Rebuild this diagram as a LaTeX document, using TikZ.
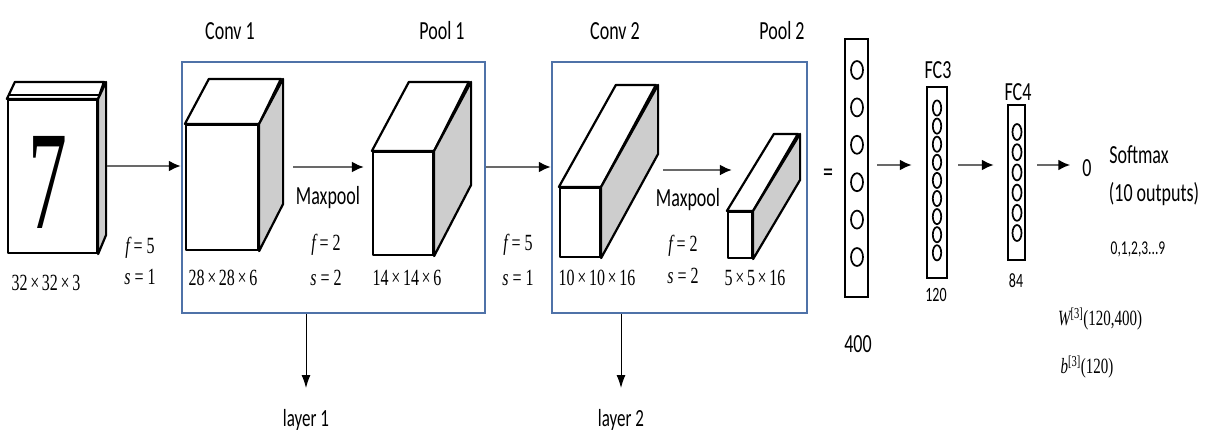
\documentclass[tikz,border=0pt]{standalone}
\usepackage{fontspec}
\setmainfont{Carlito}
\newfontfamily\serif{Liberation Serif}
\usetikzlibrary{arrows.meta,calc}
\newcommand\vs[1]{\scalebox{1}[1.45]{#1}}
\newcommand\mycube[7]{% name, cx, cy, w, h, dx, dy
  \node[face,minimum width=#4pt,minimum height=#5pt] (#1) at (#2,#3) {};
  \filldraw[topf] (#1.north west) -- ++(#6,#7) -- ++(#4,0) -- (#1.north east) -- cycle;
  \filldraw[side] (#1.north east) -- ++(#6,#7) -- ++(0,#5) -- (#1.south east) -- cycle;
}
\definecolor{boxblue}{RGB}{79,114,168}
\definecolor{sidegray}{RGB}{205,205,205}
\definecolor{shaft}{RGB}{105,105,105}
\begin{document}
\begin{tikzpicture}[x=1pt,y=-1pt,
  face/.style={draw=black,line width=2.2pt,fill=white,inner sep=0pt,line join=round},
  side/.style={draw=black,line width=2.2pt,fill=sidegray,line join=round},
  topf/.style={draw=black,line width=2.2pt,fill=white,line join=round},
  group/.style={draw=boxblue,line width=2.4pt,inner sep=0pt},
  arr/.style={draw=shaft,line width=2.2pt,-{Latex[length=12pt,width=11pt,color=black]}},
  down/.style={draw=black,line width=1pt,-{Latex[length=13pt,width=9pt]}},
  fc/.style={draw=black,line width=2.4pt,fill=white,inner sep=0pt},
  neuron/.style={draw=black,line width=1.7pt},
  lbl/.style={inner sep=0pt,font=\fontsize{18}{20}\selectfont},
  small/.style={inner sep=0pt,font=\fontsize{14}{16}\selectfont},
  dim/.style={inner sep=0pt,font=\fontsize{16}{18}\serif},
  form/.style={inner sep=0pt,font=\fontsize{15}{17}\serif},
]
\fill[white] (0,0) rectangle (1209,434);
\useasboundingbox (0,0) rectangle (1209,434);

% group boxes
\node[group,minimum width=303pt,minimum height=251pt] (box1) at (333.5,187.5) {};
\node[group,minimum width=255pt,minimum height=251pt] (box2) at (679.5,187.5) {};

% cubes
\mycube{in}{52.5}{176.5}{89}{153}{8}{-17}
\draw[line width=1.4pt] ($(in.north west)+(2,-4)$) -- ($(in.north east)+(2,-4)$);
\node[inner sep=0pt,font=\fontsize{97}{97}\serif] (seven) at (48,182) {\scalebox{0.8}[1.45]{7}};
\mycube{c1}{222}{187.5}{72}{125}{24}{-45}
\mycube{p1}{403}{203.5}{60}{103}{37}{-69}
\mycube{c2}{580}{222.5}{40}{69}{57}{-102}
\mycube{p2}{740}{235}{24}{46}{47}{-77}

% titles
\node[lbl] (t1) at (230,31) {\vs{Conv 1}};
\node[lbl] (t2) at (442,31) {\vs{Pool 1}};
\node[lbl] (t3) at (615,31) {\vs{Conv 2}};
\node[lbl] (t4) at (782,31) {\vs{Pool 2}};

% dimension labels
\node[dim] (d0) at (46,283) {\vs{32\,×\,32\,×\,3}};
\node[dim] (d1) at (223,278) {\vs{28\,×\,28\,×\,6}};
\node[dim] (d2) at (407,278) {\vs{14\,×\,14\,×\,6}};
\node[dim] (d3) at (597,278) {\vs{10\,×\,10\,×\,16}};
\node[dim] (d4) at (755,278) {\vs{5\,×\,5\,×\,16}};

% hyper-parameters
\node[dim] (f0) at (140,248) {\vs{{\itshape f} = 5}};
\node[dim] (s0) at (140,277) {\vs{{\itshape s} = 1}};
\node[dim] (f1) at (326,245) {\vs{{\itshape f} = 2}};
\node[dim] (s1) at (326,278) {\vs{{\itshape s} = 2}};
\node[dim] (f2) at (518,245) {\vs{{\itshape f} = 5}};
\node[dim] (s2) at (518,278) {\vs{{\itshape s} = 1}};
\node[dim] (f3) at (683,246) {\vs{{\itshape f} = 2}};
\node[dim] (s3) at (683,276) {\vs{{\itshape s} = 2}};

\node[lbl] (mp1) at (328,198) {\vs{Maxpool}};
\node[lbl] (mp2) at (688,200) {\vs{Maxpool}};

% arrows between stages
\coordinate (a0) at (107,166);
\draw[arr] (a0) -- (a0 -| box1.west);
\coordinate (a1) at (293,167);
\draw[arr] (a1) -- ($(a1 -| p1.west)+(-8,0)$);
\draw[arr] (box1.east |- a1) -- (box2.west |- a1);
\coordinate (a2) at (663,170);
\draw[arr] (a2) -- ($(a2 -| p2.west)+(5,0)$);

\node[lbl,font=\fontsize{20}{22}\selectfont] (eq) at (828,175) {\vs{=}};

% fully connected layers
\node[fc,minimum width=23pt,minimum height=258pt] (l400) at (856.5,168) {};
\foreach \i in {0,...,5} \draw[neuron] (857,{70+37.4*\i}) ellipse [x radius=6pt, y radius=9pt];
\node[fc,minimum width=20pt,minimum height=191pt] (fc3) at (937,182.5) {};
\foreach \i in {0,...,8} \draw[neuron] (937,{108+18.1*\i}) ellipse [x radius=4.2pt, y radius=7.6pt];
\node[fc,minimum width=17pt,minimum height=155pt] (fc4) at (1016.5,182.5) {};
\foreach \i in {0,...,5} \draw[neuron] (1017,{132+20.2*\i}) ellipse [x radius=4.5pt, y radius=8pt];

\node[lbl] (n400) at (858,344) {\vs{400}};
\node[lbl] (nfc3) at (938,70) {\vs{FC3}};
\node[small] (n120) at (936,295) {\vs{120}};
\node[lbl] (nfc4) at (1018,92) {\vs{FC4}};
\node[small] (n84) at (1016,281) {\vs{84}};
\node[lbl] (out) at (1087,168) {\vs{0}};

\coordinate (b1) at (877,165);
\draw[arr] (b1) -- ($(b1 -| fc3.west)+(-14,0)$);
\coordinate (b2) at (958,165);
\draw[arr] (b2) -- ($(b2 -| fc4.west)+(-13,0)$);
\coordinate (b3) at (1037,165);
\draw[arr] (b3) -- ($(b3 -| out.west)+(-12,0)$);

\node[lbl] (sm) at (1139,155) {\vs{Softmax}};
\node[lbl] (sm2) at (1154,194) {\vs{(10 outputs)}};
\node[inner sep=0pt,font=\fontsize{13.5}{15}\selectfont] (digits) at (1138,249) {\vs{0,1,2,3...9}};
\node[form] (wlab) at (1100,319) {\vs{{\itshape W}\textsuperscript{[3]}(120,400)}};
\node[form] (blab) at (1087,367) {\vs{{\itshape b}\textsuperscript{[3]}(120)}};

% layer labels
\node[lbl,font=\fontsize{17}{19}\selectfont] (layer1) at (306,420) {\vs{layer 1}};
\node[lbl,font=\fontsize{17}{19}\selectfont] (layer2) at (621,420) {\vs{layer 2}};
\draw[down] (layer1 |- box1.south) -- (306,388);
\draw[down] (layer2 |- box2.south) -- (621,388);
\end{tikzpicture}
\end{document}
